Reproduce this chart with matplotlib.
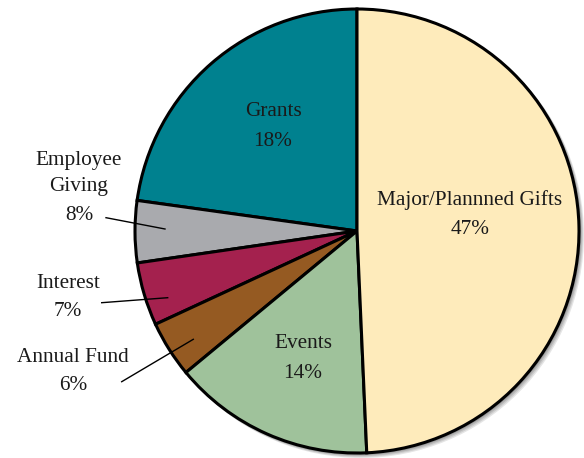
import matplotlib.pyplot as plt
from matplotlib.patches import Circle

# slices, counter-clockwise from 12 o'clock
categories = ["Grants", "Employee\nGiving", "Interest", "Annual Fund", "Events", "Major/Plannned Gifts"]
pct_labels = ["18%", "8%", "7%", "6%", "14%", "47%"]
# wedge sizes as drawn in the picture (not the same as the printed labels)
wedge_share = [22.8, 4.5, 4.6, 4.1, 14.7, 49.3]
colors = ["#00818f", "#a9aaae", "#a4214e", "#955a22", "#9fc29b", "#feebbb"]

W, H = 584, 458
fig = plt.figure(figsize=(W / 100, H / 100), dpi=100)
ax = fig.add_axes([0, 0, 1, 1])

def py(y):
    # convert top-down pixel rows into axes y
    return H - y

cx, cy, r = 357, py(231), 222

# soft shadow to the lower right
for i, a in enumerate([0.10, 0.10, 0.12, 0.15]):
    ax.add_patch(Circle((cx + 4 - i, cy - 4 + i), r + 1, color="black", alpha=a, lw=0, zorder=0))

ax.pie(wedge_share, colors=colors, startangle=90, counterclock=True,
       center=(cx, cy), radius=r, frame=True,
       wedgeprops=dict(edgecolor="black", linewidth=2.2))
ax.set_xlim(0, W)
ax.set_ylim(0, H)
ax.set_aspect("equal")
ax.axis("off")

font = dict(family=["Liberation Serif", "DejaVu Serif"], fontsize=15.3, color="#1a1a1a",
            ha="center", va="center", zorder=5)

# labels inside the pie
ax.text(273, py(112), categories[0], **font)
ax.text(273, py(142), pct_labels[0], **font)
ax.text(470, py(200), categories[5], **font)
ax.text(470, py(230), pct_labels[5], **font)
ax.text(303, py(343), categories[4], **font)
ax.text(303, py(373), pct_labels[4], **font)

# labels outside with leader lines
ax.text(79, py(160), "Employee", **font)
ax.text(79, py(187), "Giving", **font)
ax.text(79, py(215), pct_labels[1], **font)
ax.plot([106, 165], [py(217.7), py(229)], color="black", lw=1, zorder=4)

ax.text(68, py(283), categories[2], **font)
ax.text(68, py(311), pct_labels[2], **font)
ax.plot([101.7, 167.7], [py(302.7), py(297.7)], color="black", lw=1, zorder=4)

ax.text(73, py(358), categories[3], **font)
ax.text(73, py(386), pct_labels[3], **font)
ax.plot([121.7, 193.3], [py(381.7), py(339.3)], color="black", lw=1, zorder=4)

fig.savefig("out.png", dpi=100, facecolor="white")
